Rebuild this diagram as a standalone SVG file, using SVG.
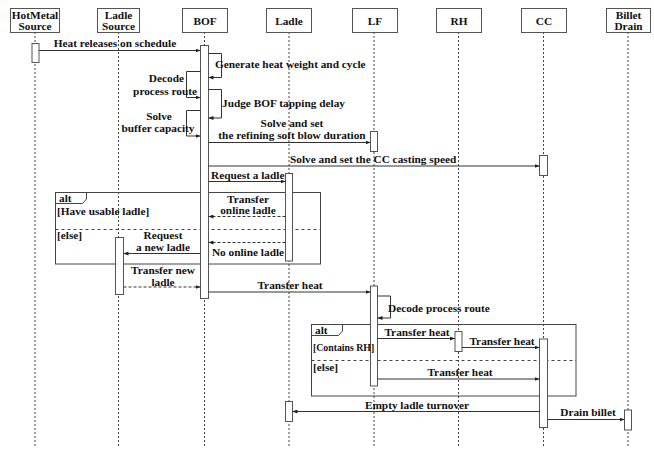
<svg xmlns="http://www.w3.org/2000/svg" width="654" height="459" viewBox="0 0 654 459">
<defs>
<marker id="a" markerWidth="5" markerHeight="4" refX="5" refY="2" orient="auto" markerUnits="userSpaceOnUse"><path d="M0,0 L5,2 L0,4 z" fill="#222"/></marker>
<style>
.t{font-family:"Liberation Serif","Times New Roman","DejaVu Serif",serif;font-weight:bold;font-size:11.3px;fill:#111}
.m{text-anchor:middle}
.ll{stroke:#444;stroke-width:1;stroke-dasharray:2,2;fill:none}
.box{fill:#fff;stroke:#555;stroke-width:1}
.act{fill:#fff;stroke:#555;stroke-width:1}
.msg{stroke:#333;stroke-width:1;fill:none;marker-end:url(#a)}
.ret{stroke:#333;stroke-width:1;fill:none;stroke-dasharray:3,2;marker-end:url(#a)}
.fr{fill:none;stroke:#444;stroke-width:1}
.sep{stroke:#444;stroke-width:1;stroke-dasharray:3,3}
</style>
</defs>
<rect width="654" height="459" fill="#fff"/>
<g id="lifelines">
<line class="ll" x1="35" y1="32" x2="35" y2="447"/>
<line class="ll" x1="118.5" y1="32" x2="118.5" y2="447"/>
<line class="ll" x1="204.5" y1="32" x2="204.5" y2="447"/>
<line class="ll" x1="289" y1="32" x2="289" y2="447"/>
<line class="ll" x1="374" y1="32" x2="374" y2="447"/>
<line class="ll" x1="458.5" y1="32" x2="458.5" y2="447"/>
<line class="ll" x1="543.5" y1="32" x2="543.5" y2="447"/>
<line class="ll" x1="628" y1="32" x2="628" y2="447"/>
</g>
<g id="HotMetalSource"><rect class="box" x="10.5" y="8.5" width="49" height="24"/><text class="t m" x="35" y="19">HotMetal</text><text class="t m" x="35" y="30">Source</text></g>
<g id="LadleSource"><rect class="box" x="97.5" y="8.5" width="42" height="24"/><text class="t m" x="118.5" y="19">Ladle</text><text class="t m" x="118.5" y="30">Source</text></g>
<g id="BOF"><rect class="box" x="182.5" y="8.5" width="45" height="24"/><text class="t m" x="205" y="24.5">BOF</text></g>
<g id="Ladle"><rect class="box" x="266.5" y="8.5" width="45" height="24"/><text class="t m" x="289" y="24.5">Ladle</text></g>
<g id="LF"><rect class="box" x="352.5" y="8.5" width="45" height="24"/><text class="t m" x="375" y="24.5">LF</text></g>
<g id="RH"><rect class="box" x="436.5" y="8.5" width="45" height="24"/><text class="t m" x="459" y="24.5">RH</text></g>
<g id="CC"><rect class="box" x="521.5" y="8.5" width="45" height="24"/><text class="t m" x="544" y="24.5">CC</text></g>
<g id="BilletDrain"><rect class="box" x="606.5" y="8.5" width="44" height="24"/><text class="t m" x="628.5" y="19">Billet</text><text class="t m" x="628.5" y="30">Drain</text></g>
<g id="frames">
<rect class="fr" x="55.5" y="192.5" width="265" height="71.5"/>
<path class="fr" d="M55.5,203.5 H82.5 L86.5,199 V192.5"/>
<line class="sep" x1="55.5" y1="229.5" x2="320.5" y2="229.5"/>
<rect class="fr" x="311.5" y="324.5" width="264.5" height="71.5"/>
<path class="fr" d="M311.5,335.5 H338.5 L342.5,331 V324.5"/>
<line class="sep" x1="311.5" y1="360.5" x2="576" y2="360.5"/>
</g>
<g id="activations">
<rect class="act" x="32" y="43.5" width="7" height="19"/>
<rect class="act" x="200.5" y="45.5" width="8" height="253"/>
<rect class="act" x="370.5" y="131.5" width="7" height="20"/>
<rect class="act" x="539.5" y="155.5" width="8" height="20"/>
<rect class="act" x="285.5" y="173.5" width="7" height="87.5"/>
<rect class="act" x="115.5" y="237.5" width="8" height="57"/>
<rect class="act" x="370.5" y="286" width="7" height="100"/>
<rect class="act" x="455" y="331.5" width="7" height="20"/>
<rect class="act" x="539.5" y="339" width="8" height="88.5"/>
<rect class="act" x="285.5" y="401.5" width="7" height="20"/>
<rect class="act" x="624.5" y="410" width="7" height="20"/>
</g>
<g id="connectors">
<path class="msg" d="M39,50.5 H200.5"/>
<path class="msg" d="M208.5,53.5 H221.5 V77.5 H208.5"/>
<path class="msg" d="M200.5,71.5 H186.5 V97.5 H200.5"/>
<path class="msg" d="M208.5,89.5 H221.5 V118 H208.5"/>
<path class="msg" d="M200.5,110.5 H186.5 V136 H200.5"/>
<path class="msg" d="M208.5,142.5 H370.5"/>
<path class="msg" d="M208.5,166 H539.5"/>
<path class="msg" d="M208.5,181.5 H285.5"/>
<path class="ret" d="M285.5,216.5 H208.5"/>
<path class="ret" d="M285.5,242.5 H208.5"/>
<path class="msg" d="M200.5,253.5 H123.5"/>
<path class="ret" d="M123.5,287 H200.5"/>
<path class="msg" d="M208.5,292 H370.5"/>
<path class="msg" d="M377.5,296 H390.5 V318 H377.5"/>
<path class="msg" d="M377.5,338.5 H455"/>
<path class="msg" d="M462,347.5 H539.5"/>
<path class="msg" d="M377.5,379 H539.5"/>
<path class="msg" d="M539.5,411.5 H292.5"/>
<path class="msg" d="M547.5,419.5 H624.5"/>
</g>
<g id="labels">
<text class="t" x="59" y="201.5">alt</text>
<text class="t" x="57" y="215">[Have usable ladle]</text>
<text class="t" x="57" y="238.5">[else]</text>
<text class="t" x="315" y="333.5">alt</text>
<text class="t" x="313" y="351" style="font-size:9.8px">[Contains RH]</text>
<text class="t" x="313" y="370.5">[else]</text>
<text class="t m" x="115" y="47">Heat releases on schedule</text>
<text class="t" x="215" y="68">Generate heat weight and cycle</text>
<text class="t" x="184" y="82" style="text-anchor:end">Decode</text>
<text class="t" x="197" y="95" style="text-anchor:end">process route</text>
<text class="t" x="222" y="106.5">Judge BOF tapping delay</text>
<text class="t m" x="159" y="120">Solve</text>
<text class="t m" x="158" y="132">buffer capacity</text>
<text class="t m" x="292" y="127">Solve and set</text>
<text class="t m" x="292" y="139">the refining soft blow duration</text>
<text class="t" x="290" y="163">Solve and set the CC casting speed</text>
<text class="t" x="211" y="179">Request a ladle</text>
<text class="t m" x="248" y="202.5">Transfer</text>
<text class="t m" x="248" y="214">online ladle</text>
<text class="t m" x="248" y="255.5">No online ladle</text>
<text class="t m" x="163" y="239">Request</text>
<text class="t m" x="163" y="251">a new ladle</text>
<text class="t m" x="163" y="273.5">Transfer new</text>
<text class="t m" x="163" y="285.5">ladle</text>
<text class="t m" x="290" y="288.5">Transfer heat</text>
<text class="t" x="388" y="311.5">Decode process route</text>
<text class="t m" x="417" y="335.5">Transfer heat</text>
<text class="t m" x="502" y="344.5">Transfer heat</text>
<text class="t m" x="460" y="375.5">Transfer heat</text>
<text class="t m" x="417" y="409">Empty ladle turnover</text>
<text class="t m" x="588" y="415.5">Drain billet</text>
</g>
</svg>
